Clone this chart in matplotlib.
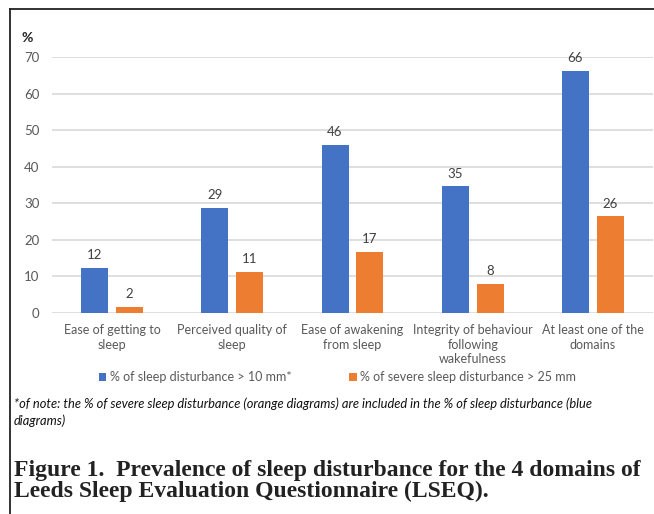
import matplotlib.pyplot as plt
import numpy as np
from matplotlib.lines import Line2D

categories = [
    "Ease of getting to\nsleep",
    "Perceived quality of\nsleep",
    "Ease of awakening\nfrom sleep",
    "Integrity of behaviour\nfollowing\nwakefulness",
    "At least one of the\ndomains",
]
disturbance = [12.3, 28.7, 46.0, 34.6, 66.3]
severe = [1.6, 11.2, 16.7, 7.9, 26.4]
series_names = ["% of sleep disturbance > 10 mm*", "% of severe sleep disturbance > 25 mm"]
yticks = [0, 10, 20, 30, 40, 50, 60, 70]

note = ("*of note: the % of severe sleep disturbance (orange diagrams) are included in the % of sleep disturbance (blue\n"
        "diagrams)")
caption = ("Figure 1.  Prevalence of sleep disturbance for the 4 domains of\n"
           "Leeds Sleep Evaluation Questionnaire (LSEQ).")

BLUE = "#4472C4"
ORANGE = "#ED7D31"
TXT = "#595959"
FONT = "Lato"

plt.rcParams["font.family"] = [FONT, "DejaVu Sans"]

fig = plt.figure(figsize=(6.54, 5.14), dpi=100)
ax = fig.add_axes([52 / 654, 1 - 313 / 514, 601 / 654, 256 / 514])

x = np.arange(len(categories))
w = 0.225
off = 0.145
b1 = ax.bar(x - off, disturbance, w, color=BLUE, label=series_names[0], zorder=3)
b2 = ax.bar(x + off, severe, w, color=ORANGE, label=series_names[1], zorder=3)
for bars, vals in ((b1, disturbance), (b2, severe)):
    for r, v in zip(bars, vals):
        ax.annotate(f"{round(v)}", (r.get_x() + r.get_width() / 2, v),
                    xytext=(0, 5), textcoords="offset points",
                    ha="center", va="bottom", fontsize=9.5, color="#404040")

ax.set_xlim(-0.5, len(categories) - 0.5)
ax.set_ylim(0, 70)
ax.set_yticks(yticks)
ax.set_xticks(x)
ax.set_xticklabels(categories, fontsize=9, color=TXT, linespacing=1.25)
ax.tick_params(axis="y", labelsize=9.5, colors=TXT, length=0, pad=9)
ax.tick_params(axis="x", length=0, pad=8)
ax.grid(axis="y", color="#D9D9D9", linewidth=1.2, zorder=0)
for s in ax.spines.values():
    s.set_visible(False)

fig.text(22 / 654, 1 - 38 / 514, "%", fontsize=10, fontweight="bold", color="#222222",
         ha="left", va="center")

fig.legend(handles=[b1, b2], loc="center", bbox_to_anchor=(0.516, 1 - 377 / 514),
           ncol=2, frameon=False, fontsize=9, labelcolor=TXT,
           handlelength=0.6, handleheight=0.6, handletextpad=0.3, columnspacing=4.6)

fig.text(14 / 654, 1 - 412 / 514, note, fontsize=9.3, style="italic", color="#111111",
         ha="left", va="center", linespacing=1.45)

fig.text(14 / 654, 1 - 481 / 514, caption, fontsize=17, fontweight="bold",
         family=["Liberation Serif"], color="#222222", ha="left", va="center",
         linespacing=0.95)

# frame around the figure
fig.add_artist(Line2D([10 / 654, 10 / 654], [0, 1 - 9 / 514], color="#222222", lw=1.3))
fig.add_artist(Line2D([10 / 654, 1], [1 - 9 / 514, 1 - 9 / 514], color="#222222", lw=1.3))

fig.savefig("out.png", dpi=100)
